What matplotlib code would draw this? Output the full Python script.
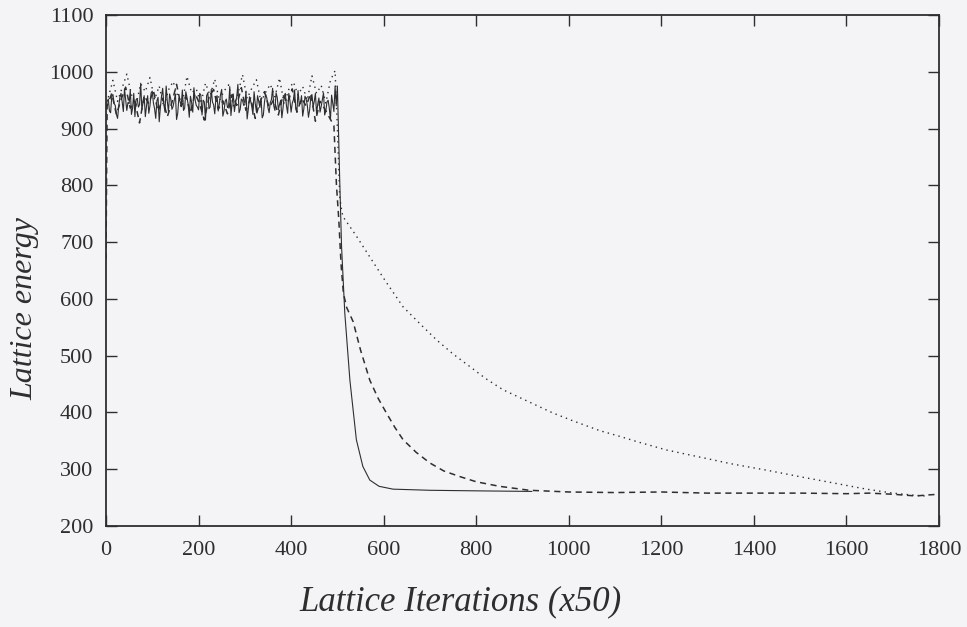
import matplotlib.pyplot as plt
import numpy as np

# heating phase (noisy)
noise_x_solid = np.arange(0, 500, 2.5)
noise_y_solid = [
    935, 948, 952, 931, 928, 957, 960, 944, 941, 925,
    918, 939, 955, 962, 947, 930, 970, 951, 932, 946,
    944, 968, 925, 936, 962, 921, 951, 953, 938, 942,
    980, 933, 946, 958, 921, 940, 958, 927, 940, 963,
    966, 945, 935, 918, 949, 955, 912, 937, 957, 971,
    943, 929, 975, 948, 930, 961, 952, 934, 939, 950,
    961, 916, 927, 954, 948, 940, 968, 932, 936, 965,
    955, 943, 920, 957, 946, 929, 972, 951, 941, 938,
    933, 962, 959, 924, 950, 947, 915, 958, 963, 935,
    938, 969, 947, 942, 926, 953, 958, 931, 944, 960,
    969, 922, 931, 948, 952, 937, 940, 974, 923, 945,
    961, 930, 945, 956, 978, 928, 934, 952, 950, 941,
    942, 966, 917, 934, 956, 949, 939, 925, 965, 944,
    930, 958, 948, 937, 953, 919, 924, 947, 960, 954,
    937, 928, 946, 951, 971, 940, 932, 963, 955, 933,
    943, 950, 919, 936, 958, 962, 940, 927, 962, 949,
    929, 945, 951, 968, 936, 929, 967, 943, 944, 958,
    922, 935, 957, 952, 941, 920, 933, 955, 960, 938,
    948, 962, 926, 943, 954, 929, 939, 951, 963, 924,
    931, 947, 950, 936, 916, 959, 945, 930, 975, 940,
]
noise_x_dashed = [0] + list(np.arange(2.5, 500, 10))
noise_y_dashed = [670,
    940, 962, 925, 951, 973, 936, 948, 910, 958, 944,
    967, 930, 953, 921, 946, 978, 939, 957, 928, 962,
    943, 915, 955, 969, 934, 949, 926, 960, 941, 972,
    932, 954, 918, 947, 965, 937, 951, 924, 959, 945,
    970, 929, 953, 940, 962, 913, 948, 935, 920, 905,
]
noise_x_dotted = np.arange(5, 500, 10)
noise_y_dotted = [
    955, 985, 948, 972, 996, 960, 942, 979, 965, 990,
    951, 975, 938, 968, 983, 957, 946, 992, 963, 970,
    944, 980, 958, 987, 949, 966, 977, 940, 961, 995,
    953, 971, 986, 947, 964, 978, 956, 989, 943, 969,
    982, 959, 974, 950, 993, 962, 976, 945, 985, 1002,
]

# cooling phase
cool_x_solid = [500, 505, 509, 516, 527, 541, 555, 570, 590, 620, 700, 800, 920]
cool_y_solid = [975, 810, 692, 575, 457, 352, 305, 281, 270, 265, 263, 262, 261]

cool_x_dashed = [498, 503, 508, 513, 520, 534, 550, 570, 588, 606, 624, 642, 670,
                 700, 730, 765, 800, 850, 915, 1000, 1100, 1200, 1300, 1400, 1500,
                 1600, 1650, 1700, 1750, 1780, 1800]
cool_y_dashed = [800, 740, 660, 610, 585, 560, 510, 457, 425, 399, 374, 352, 330,
                 311, 297, 287, 278, 270, 263, 260, 259, 260, 258, 258, 258,
                 257, 258, 256, 253, 255, 256]

cool_x_dotted = [500, 505, 509, 512, 540, 570, 605, 642, 680, 714, 750, 786, 820,
                 858, 900, 966, 1010, 1067, 1110, 1150, 1211, 1280, 1355, 1430,
                 1499, 1571, 1643, 1700, 1750, 1770]
cool_y_dotted = [900, 780, 757, 745, 712, 674, 630, 586, 555, 528, 503, 481, 460,
                 440, 424, 399, 385, 368, 358, 348, 334, 322, 309, 298,
                 287, 276, 265, 258, 254, 253]

bg = '#f4f4f6'
ink = '#2e2e2e'
plt.rcParams['font.family'] = ['Liberation Serif', 'DejaVu Serif']

fig = plt.figure(figsize=(9.67, 6.27), dpi=100, facecolor=bg)
ax = fig.add_axes([0.1096, 0.161, 0.8615, 0.815], facecolor=bg)

ax.plot(list(noise_x_dotted) + cool_x_dotted, noise_y_dotted + cool_y_dotted,
        color=ink, lw=1.0, linestyle=(0, (1, 3)))
ax.plot(noise_x_dashed + cool_x_dashed, noise_y_dashed + cool_y_dashed,
        color=ink, lw=1.1, linestyle=(0, (4, 3)))
ax.plot(list(noise_x_solid) + cool_x_solid, noise_y_solid + cool_y_solid,
        color=ink, lw=0.8)

ax.set_xlim(0, 1800)
ax.set_ylim(200, 1100)
ax.set_xticks(range(0, 1801, 200))
ax.set_yticks(range(200, 1101, 100))
ax.tick_params(direction='in', length=8, width=1.0, top=True, right=True,
               labelsize=16, colors=ink)
ax.tick_params(axis='x', pad=11)
ax.tick_params(axis='y', pad=9)
for s in ax.spines.values():
    s.set_linewidth(1.3)
    s.set_color(ink)

ax.set_xlabel('Lattice Iterations (x50)', fontsize=25, style='italic', color=ink)
ax.set_ylabel('Lattice energy', fontsize=23, style='italic', color=ink)
ax.xaxis.set_label_coords(0.425, -0.115)
ax.yaxis.set_label_coords(-0.08, 0.425)

fig.savefig('out.png', dpi=100, facecolor=bg)
